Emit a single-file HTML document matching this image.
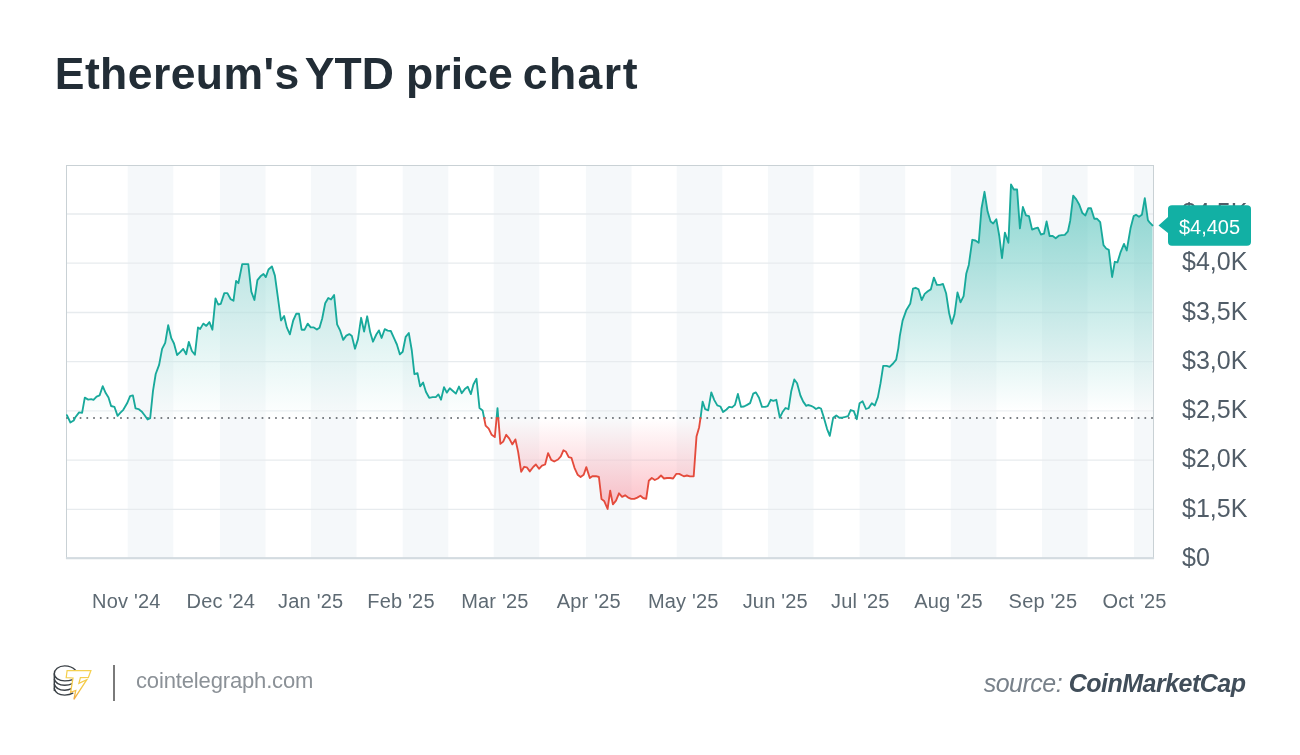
<!DOCTYPE html>
<html><head><meta charset="utf-8"><style>
html,body{margin:0;padding:0;background:#fff;}
body{width:1300px;height:755px;position:relative;overflow:hidden;font-family:"Liberation Sans",sans-serif;}
.title{position:absolute;left:54.6px;top:48.8px;font-size:44.5px;line-height:50px;font-weight:bold;color:#222d36;white-space:nowrap;font-family:"Liberation Sans",sans-serif;letter-spacing:0.1px;width:700px;height:60px}
.title span{position:absolute;top:0}
.yl{font-family:"Liberation Sans",sans-serif;font-size:25px;fill:#515d68;}
.xl{font-family:"Liberation Sans",sans-serif;font-size:20px;letter-spacing:0.2px;fill:#5e6a73;}
.tag{font-family:"Liberation Sans",sans-serif;font-size:20px;fill:#fff;}
.site{position:absolute;left:136px;top:668px;font-size:22px;line-height:26px;letter-spacing:-0.15px;color:#8b9197;font-family:"Liberation Sans",sans-serif;white-space:nowrap}
.src{position:absolute;right:54.5px;top:668.8px;font-size:25px;line-height:28px;letter-spacing:-0.5px;font-style:italic;color:#78818a;white-space:nowrap;font-family:"Liberation Sans",sans-serif}
.src b{color:#414e5a}
.div{position:absolute;left:113.2px;top:665.2px;width:1.7px;height:35.8px;background:#7a7a7a}
</style></head><body>
<div class="title"><span style="left:0.2px;letter-spacing:0.42px">Ethereum's</span> <span style="left:250.2px">YTD</span> <span style="left:351.4px">price</span> <span style="left:468.1px;letter-spacing:1.5px">chart</span></div>
<svg width="1300" height="755" viewBox="0 0 1300 755" style="position:absolute;left:0;top:0"><defs>
<linearGradient id="gg" gradientUnits="userSpaceOnUse" x1="0" y1="184" x2="0" y2="412"><stop offset="0" stop-color="#13aba0" stop-opacity="0.5"/><stop offset="1" stop-color="#13aba0" stop-opacity="0"/></linearGradient>
<linearGradient id="gl" gradientUnits="userSpaceOnUse" x1="0" y1="263" x2="0" y2="420"><stop offset="0" stop-color="#13aba0" stop-opacity="0.25"/><stop offset="1" stop-color="#13aba0" stop-opacity="0"/></linearGradient>
<linearGradient id="rg" gradientUnits="userSpaceOnUse" x1="0" y1="418" x2="0" y2="510"><stop offset="0" stop-color="#f5203c" stop-opacity="0.0"/><stop offset="1" stop-color="#f5203c" stop-opacity="0.29"/></linearGradient>
<path id="area" d="M66.9,415.2 L70.4,422.5 L73.7,420.5 L75.2,417.5 L79.1,412.4 L82.1,412.9 L84.8,397.6 L88.2,399.6 L91.2,399.2 L93.5,399.9 L96.6,396.6 L99.6,395.4 L102.7,386.2 L105.7,393.1 L108.5,397.6 L111.1,406.0 L114.4,406.8 L117.6,415.9 L120.2,412.9 L123.3,409.8 L127.1,403.3 L130.1,396.1 L132.9,395.4 L135.5,408.3 L138.5,409.1 L141.6,411.4 L144.6,415.2 L147.6,419.5 L150.2,418.2 L153.0,390.8 L155.7,374.0 L159.1,364.9 L162.1,348.9 L165.2,342.8 L168.2,325.2 L171.3,338.2 L174.0,343.5 L177.1,355.0 L180.4,351.9 L183.2,348.9 L186.2,354.2 L188.8,341.9 L191.9,351.0 L194.9,354.8 L198.0,327.4 L200.2,328.9 L203.3,323.6 L206.3,325.9 L209.4,322.1 L212.4,329.7 L215.5,298.4 L218.2,304.5 L220.8,303.8 L224.3,293.1 L227.4,293.1 L230.7,299.2 L233.5,300.7 L236.1,280.9 L238.4,283.2 L242.2,264.1 L248.3,264.1 L251.3,291.6 L254.4,300.0 L257.4,280.2 L260.5,276.3 L263.5,274.0 L265.8,277.1 L268.5,269.5 L271.9,266.4 L274.9,275.6 L277.7,296.2 L281.0,320.5 L284.1,316.0 L286.8,327.4 L289.9,334.3 L293.2,320.5 L296.3,313.7 L299.0,313.7 L301.6,329.7 L304.6,329.7 L307.7,323.6 L310.7,327.4 L313.8,327.4 L316.9,329.5 L319.5,327.7 L322.2,318.5 L325.2,303.3 L328.3,298.0 L331.0,299.5 L334.1,294.9 L337.1,324.3 L340.2,330.7 L343.2,339.9 L346.3,335.6 L349.3,334.1 L351.9,336.1 L355.0,348.7 L358.0,339.1 L361.1,317.8 L364.1,331.5 L367.2,316.3 L370.2,332.3 L373.0,341.7 L376.3,334.5 L378.9,330.4 L381.6,338.0 L384.7,329.2 L387.7,330.7 L390.8,331.0 L393.8,337.6 L396.9,344.5 L399.9,354.4 L402.7,351.8 L405.7,336.8 L408.8,333.0 L411.8,350.5 L414.4,374.2 L417.5,373.1 L420.1,386.4 L423.1,382.6 L425.9,391.7 L429.2,397.8 L432.7,397.2 L435.8,397.1 L438.4,394.4 L441.0,399.7 L444.0,387.1 L446.8,392.6 L449.8,388.3 L452.9,391.0 L455.9,393.6 L459.0,386.5 L461.7,393.2 L464.8,389.1 L467.8,386.8 L470.9,394.1 L473.4,384.5 L476.5,378.8 L479.5,408.1 L482.6,410.4 L485.6,425.6 L488.7,428.7 L491.7,434.8 L494.8,437.1 L497.5,408.1 L500.4,443.9 L503.2,441.6 L506.2,434.8 L509.3,438.6 L512.3,444.4 L515.4,439.4 L518.1,451.6 L521.2,471.8 L524.2,466.8 L526.8,467.3 L529.8,471.4 L533.4,466.8 L535.9,464.5 L539.0,468.8 L542.0,465.7 L545.1,464.5 L548.1,453.1 L551.2,459.9 L554.2,461.5 L558.0,459.5 L560.8,456.4 L563.4,450.3 L566.0,451.8 L568.7,457.2 L571.5,457.9 L574.5,467.8 L577.6,474.7 L580.6,477.0 L583.7,474.7 L586.3,467.1 L589.8,478.0 L592.3,476.2 L595.9,476.2 L598.9,477.0 L601.5,499.1 L604.1,500.9 L607.6,509.0 L610.2,490.7 L612.9,504.4 L616.0,500.6 L619.0,493.3 L622.1,496.8 L625.1,495.3 L628.2,497.6 L631.2,498.8 L634.3,498.8 L637.3,497.6 L640.4,495.7 L643.1,498.0 L646.2,498.8 L648.8,480.8 L651.8,478.0 L654.8,480.0 L657.9,478.5 L661.0,475.5 L664.0,478.5 L667.0,478.0 L670.1,478.0 L673.1,478.5 L676.2,473.9 L679.2,473.9 L682.3,475.5 L683.8,476.3 L686.9,475.5 L689.9,476.3 L693.7,476.3 L696.5,436.6 L699.1,427.5 L700.6,417.6 L702.6,401.6 L705.2,409.2 L708.2,410.4 L711.3,392.4 L714.3,400.1 L717.3,405.4 L720.4,406.5 L723.1,412.0 L726.5,409.5 L729.1,406.9 L732.1,407.4 L734.9,404.9 L737.9,394.0 L741.0,406.9 L744.0,406.5 L747.1,404.9 L750.1,403.1 L753.2,393.7 L755.9,392.4 L759.0,397.8 L762.0,406.9 L765.1,406.9 L767.7,406.2 L770.7,399.8 L773.3,400.8 L776.3,399.8 L779.8,417.6 L782.4,412.3 L785.5,408.0 L788.5,409.2 L791.3,390.9 L794.3,379.5 L797.1,383.3 L800.4,395.5 L803.2,401.6 L806.2,405.9 L808.0,405.0 L811.1,405.9 L813.4,407.0 L816.0,409.0 L818.7,407.7 L821.0,408.5 L824.1,418.4 L827.1,429.1 L829.8,435.9 L833.2,417.7 L836.3,415.4 L839.3,417.7 L842.3,417.7 L845.4,416.9 L848.1,416.1 L850.7,410.0 L853.8,411.1 L856.8,419.2 L859.6,403.2 L862.6,401.3 L866.0,409.0 L868.7,408.0 L871.8,403.2 L874.8,405.5 L877.9,397.1 L880.5,383.4 L883.2,365.8 L886.6,365.8 L889.6,366.9 L893.1,363.5 L896.2,359.7 L898.3,348.3 L899.8,336.1 L902.6,320.6 L906.4,309.9 L910.2,303.8 L913.0,288.6 L915.6,287.8 L918.6,289.4 L921.7,300.0 L924.7,293.9 L927.8,291.3 L930.8,289.4 L933.9,277.6 L936.9,284.8 L940.0,284.8 L943.0,284.0 L946.1,293.2 L949.1,313.0 L951.7,323.7 L954.5,314.5 L957.5,292.4 L960.5,302.3 L963.6,296.2 L966.3,273.4 L968.8,264.9 L972.3,239.8 L975.4,240.5 L978.7,242.8 L981.5,208.5 L984.5,191.8 L987.6,211.6 L990.6,221.5 L993.2,223.5 L996.3,219.2 L999.3,236.0 L1002.0,258.1 L1004.9,232.6 L1008.4,242.8 L1011.0,184.5 L1013.8,189.5 L1017.1,189.5 L1019.9,228.4 L1022.9,207.0 L1026.0,215.4 L1029.0,216.2 L1032.1,229.6 L1035.1,228.4 L1037.9,227.6 L1040.9,234.5 L1044.0,233.7 L1046.6,221.5 L1049.6,236.0 L1052.7,236.0 L1055.7,238.3 L1058.8,235.7 L1061.8,235.2 L1064.8,234.8 L1067.9,231.4 L1070.2,220.7 L1073.2,195.6 L1076.3,199.4 L1079.3,204.7 L1082.4,213.1 L1085.4,215.4 L1088.3,208.2 L1091.0,208.2 L1094.3,218.7 L1096.9,218.7 L1100.2,222.1 L1103.5,245.2 L1106.2,248.5 L1108.8,249.8 L1112.1,277.0 L1114.8,261.8 L1117.4,262.4 L1120.7,251.8 L1124.0,243.9 L1126.7,250.5 L1130.7,227.4 L1133.7,216.1 L1136.0,214.8 L1139.0,216.8 L1141.9,214.8 L1144.8,198.2 L1147.9,220.1 L1149.8,222.7 L1152.5,225.4 L1152.5,418.0 L66.9,418.0 Z"/>
<clipPath id="above"><rect x="60" y="160" width="1100" height="258"/></clipPath>
<clipPath id="aboveL"><rect x="60" y="160" width="540" height="258"/></clipPath>
<clipPath id="aboveR"><rect x="600" y="160" width="560" height="258"/></clipPath>
<clipPath id="below"><rect x="480" y="418" width="222" height="140"/></clipPath>
</defs><rect x="127.7" y="165.5" width="45.6" height="392.5" fill="#f5f8fa"/><rect x="219.9" y="165.5" width="45.6" height="392.5" fill="#f5f8fa"/><rect x="310.9" y="165.5" width="45.6" height="392.5" fill="#f5f8fa"/><rect x="402.7" y="165.5" width="45.6" height="392.5" fill="#f5f8fa"/><rect x="493.7" y="165.5" width="45.6" height="392.5" fill="#f5f8fa"/><rect x="585.9" y="165.5" width="45.6" height="392.5" fill="#f5f8fa"/><rect x="676.7" y="165.5" width="45.6" height="392.5" fill="#f5f8fa"/><rect x="767.9" y="165.5" width="45.6" height="392.5" fill="#f5f8fa"/><rect x="859.6" y="165.5" width="45.6" height="392.5" fill="#f5f8fa"/><rect x="950.8" y="165.5" width="45.6" height="392.5" fill="#f5f8fa"/><rect x="1042" y="165.5" width="45.6" height="392.5" fill="#f5f8fa"/><rect x="1134" y="165.5" width="19.5" height="392.5" fill="#f5f8fa"/><line x1="66.5" x2="1153.5" y1="214.0" y2="214.0" stroke="#e7ebee" stroke-width="1.3"/><line x1="66.5" x2="1153.5" y1="263.2" y2="263.2" stroke="#e7ebee" stroke-width="1.3"/><line x1="66.5" x2="1153.5" y1="312.5" y2="312.5" stroke="#e7ebee" stroke-width="1.3"/><line x1="66.5" x2="1153.5" y1="361.7" y2="361.7" stroke="#e7ebee" stroke-width="1.3"/><line x1="66.5" x2="1153.5" y1="410.9" y2="410.9" stroke="#e7ebee" stroke-width="1.3"/><line x1="66.5" x2="1153.5" y1="460.1" y2="460.1" stroke="#e7ebee" stroke-width="1.3"/><line x1="66.5" x2="1153.5" y1="509.4" y2="509.4" stroke="#e7ebee" stroke-width="1.3"/><use href="#area" fill="#fff" fill-opacity="0.3" clip-path="url(#above)"/><use href="#area" fill="url(#gl)" clip-path="url(#aboveL)"/><use href="#area" fill="url(#gg)" clip-path="url(#aboveR)"/><use href="#area" fill="#fff" fill-opacity="0.3" clip-path="url(#below)"/><use href="#area" fill="url(#rg)" clip-path="url(#below)"/><rect x="66.5" y="165.5" width="1087.0" height="392.5" fill="none" stroke="#c9d1d5" stroke-width="1"/><line x1="65.9" x2="1154.1" y1="558.2" y2="558.2" stroke="#d3dbe0" stroke-width="2"/><line x1="66.21" x2="1153.5" y1="418.0" y2="418.0" stroke="#50565c" stroke-width="1.7" stroke-dasharray="1.7 5.039"/><path d="M66.9,415.2 L70.4,422.5 L73.7,420.5 L75.2,417.5 L79.1,412.4 L82.1,412.9 L84.8,397.6 L88.2,399.6 L91.2,399.2 L93.5,399.9 L96.6,396.6 L99.6,395.4 L102.7,386.2 L105.7,393.1 L108.5,397.6 L111.1,406.0 L114.4,406.8 L117.6,415.9 L120.2,412.9 L123.3,409.8 L127.1,403.3 L130.1,396.1 L132.9,395.4 L135.5,408.3 L138.5,409.1 L141.6,411.4 L144.6,415.2 L147.6,419.5 L150.2,418.2 L153.0,390.8 L155.7,374.0 L159.1,364.9 L162.1,348.9 L165.2,342.8 L168.2,325.2 L171.3,338.2 L174.0,343.5 L177.1,355.0 L180.4,351.9 L183.2,348.9 L186.2,354.2 L188.8,341.9 L191.9,351.0 L194.9,354.8 L198.0,327.4 L200.2,328.9 L203.3,323.6 L206.3,325.9 L209.4,322.1 L212.4,329.7 L215.5,298.4 L218.2,304.5 L220.8,303.8 L224.3,293.1 L227.4,293.1 L230.7,299.2 L233.5,300.7 L236.1,280.9 L238.4,283.2 L242.2,264.1 L248.3,264.1 L251.3,291.6 L254.4,300.0 L257.4,280.2 L260.5,276.3 L263.5,274.0 L265.8,277.1 L268.5,269.5 L271.9,266.4 L274.9,275.6 L277.7,296.2 L281.0,320.5 L284.1,316.0 L286.8,327.4 L289.9,334.3 L293.2,320.5 L296.3,313.7 L299.0,313.7 L301.6,329.7 L304.6,329.7 L307.7,323.6 L310.7,327.4 L313.8,327.4 L316.9,329.5 L319.5,327.7 L322.2,318.5 L325.2,303.3 L328.3,298.0 L331.0,299.5 L334.1,294.9 L337.1,324.3 L340.2,330.7 L343.2,339.9 L346.3,335.6 L349.3,334.1 L351.9,336.1 L355.0,348.7 L358.0,339.1 L361.1,317.8 L364.1,331.5 L367.2,316.3 L370.2,332.3 L373.0,341.7 L376.3,334.5 L378.9,330.4 L381.6,338.0 L384.7,329.2 L387.7,330.7 L390.8,331.0 L393.8,337.6 L396.9,344.5 L399.9,354.4 L402.7,351.8 L405.7,336.8 L408.8,333.0 L411.8,350.5 L414.4,374.2 L417.5,373.1 L420.1,386.4 L423.1,382.6 L425.9,391.7 L429.2,397.8 L432.7,397.2 L435.8,397.1 L438.4,394.4 L441.0,399.7 L444.0,387.1 L446.8,392.6 L449.8,388.3 L452.9,391.0 L455.9,393.6 L459.0,386.5 L461.7,393.2 L464.8,389.1 L467.8,386.8 L470.9,394.1 L473.4,384.5 L476.5,378.8 L479.5,408.1 L482.6,410.4 L484.1,418.0 M496.6,418.0 L497.5,408.1 L498.3,418.0 M700.5,418.0 L700.6,417.6 L702.6,401.6 L705.2,409.2 L708.2,410.4 L711.3,392.4 L714.3,400.1 L717.3,405.4 L720.4,406.5 L723.1,412.0 L726.5,409.5 L729.1,406.9 L732.1,407.4 L734.9,404.9 L737.9,394.0 L741.0,406.9 L744.0,406.5 L747.1,404.9 L750.1,403.1 L753.2,393.7 L755.9,392.4 L759.0,397.8 L762.0,406.9 L765.1,406.9 L767.7,406.2 L770.7,399.8 L773.3,400.8 L776.3,399.8 L779.8,417.6 L782.4,412.3 L785.5,408.0 L788.5,409.2 L791.3,390.9 L794.3,379.5 L797.1,383.3 L800.4,395.5 L803.2,401.6 L806.2,405.9 L808.0,405.0 L811.1,405.9 L813.4,407.0 L816.0,409.0 L818.7,407.7 L821.0,408.5 L824.1,418.4 L827.1,429.1 L829.8,435.9 L833.2,417.7 L836.3,415.4 L839.3,417.7 L842.3,417.7 L845.4,416.9 L848.1,416.1 L850.7,410.0 L853.8,411.1 L856.8,419.2 L859.6,403.2 L862.6,401.3 L866.0,409.0 L868.7,408.0 L871.8,403.2 L874.8,405.5 L877.9,397.1 L880.5,383.4 L883.2,365.8 L886.6,365.8 L889.6,366.9 L893.1,363.5 L896.2,359.7 L898.3,348.3 L899.8,336.1 L902.6,320.6 L906.4,309.9 L910.2,303.8 L913.0,288.6 L915.6,287.8 L918.6,289.4 L921.7,300.0 L924.7,293.9 L927.8,291.3 L930.8,289.4 L933.9,277.6 L936.9,284.8 L940.0,284.8 L943.0,284.0 L946.1,293.2 L949.1,313.0 L951.7,323.7 L954.5,314.5 L957.5,292.4 L960.5,302.3 L963.6,296.2 L966.3,273.4 L968.8,264.9 L972.3,239.8 L975.4,240.5 L978.7,242.8 L981.5,208.5 L984.5,191.8 L987.6,211.6 L990.6,221.5 L993.2,223.5 L996.3,219.2 L999.3,236.0 L1002.0,258.1 L1004.9,232.6 L1008.4,242.8 L1011.0,184.5 L1013.8,189.5 L1017.1,189.5 L1019.9,228.4 L1022.9,207.0 L1026.0,215.4 L1029.0,216.2 L1032.1,229.6 L1035.1,228.4 L1037.9,227.6 L1040.9,234.5 L1044.0,233.7 L1046.6,221.5 L1049.6,236.0 L1052.7,236.0 L1055.7,238.3 L1058.8,235.7 L1061.8,235.2 L1064.8,234.8 L1067.9,231.4 L1070.2,220.7 L1073.2,195.6 L1076.3,199.4 L1079.3,204.7 L1082.4,213.1 L1085.4,215.4 L1088.3,208.2 L1091.0,208.2 L1094.3,218.7 L1096.9,218.7 L1100.2,222.1 L1103.5,245.2 L1106.2,248.5 L1108.8,249.8 L1112.1,277.0 L1114.8,261.8 L1117.4,262.4 L1120.7,251.8 L1124.0,243.9 L1126.7,250.5 L1130.7,227.4 L1133.7,216.1 L1136.0,214.8 L1139.0,216.8 L1141.9,214.8 L1144.8,198.2 L1147.9,220.1 L1149.8,222.7 L1152.5,225.4" fill="none" stroke="#18a99b" stroke-width="1.85" stroke-linejoin="round" stroke-linecap="round"/><path d="M484.1,418.0 L485.6,425.6 L488.7,428.7 L491.7,434.8 L494.8,437.1 L496.6,418.0 M498.3,418.0 L500.4,443.9 L503.2,441.6 L506.2,434.8 L509.3,438.6 L512.3,444.4 L515.4,439.4 L518.1,451.6 L521.2,471.8 L524.2,466.8 L526.8,467.3 L529.8,471.4 L533.4,466.8 L535.9,464.5 L539.0,468.8 L542.0,465.7 L545.1,464.5 L548.1,453.1 L551.2,459.9 L554.2,461.5 L558.0,459.5 L560.8,456.4 L563.4,450.3 L566.0,451.8 L568.7,457.2 L571.5,457.9 L574.5,467.8 L577.6,474.7 L580.6,477.0 L583.7,474.7 L586.3,467.1 L589.8,478.0 L592.3,476.2 L595.9,476.2 L598.9,477.0 L601.5,499.1 L604.1,500.9 L607.6,509.0 L610.2,490.7 L612.9,504.4 L616.0,500.6 L619.0,493.3 L622.1,496.8 L625.1,495.3 L628.2,497.6 L631.2,498.8 L634.3,498.8 L637.3,497.6 L640.4,495.7 L643.1,498.0 L646.2,498.8 L648.8,480.8 L651.8,478.0 L654.8,480.0 L657.9,478.5 L661.0,475.5 L664.0,478.5 L667.0,478.0 L670.1,478.0 L673.1,478.5 L676.2,473.9 L679.2,473.9 L682.3,475.5 L683.8,476.3 L686.9,475.5 L689.9,476.3 L693.7,476.3 L696.5,436.6 L699.1,427.5 L700.5,418.0" fill="none" stroke="#e44b3c" stroke-width="1.85" stroke-linejoin="round" stroke-linecap="round"/><text x="1182" y="221.2" class="yl">$4,5K</text><text x="1182" y="270.4" class="yl">$4,0K</text><text x="1182" y="319.7" class="yl">$3,5K</text><text x="1182" y="368.9" class="yl">$3,0K</text><text x="1182" y="418.1" class="yl">$2,5K</text><text x="1182" y="467.3" class="yl">$2,0K</text><text x="1182" y="516.6" class="yl">$1,5K</text><text x="1182" y="565.8" class="yl">$0</text><text x="126.4" y="607.5" text-anchor="middle" class="xl">Nov '24</text><text x="220.8" y="607.5" text-anchor="middle" class="xl">Dec '24</text><text x="310.7" y="607.5" text-anchor="middle" class="xl">Jan '25</text><text x="401" y="607.5" text-anchor="middle" class="xl">Feb '25</text><text x="494.9" y="607.5" text-anchor="middle" class="xl">Mar '25</text><text x="588.8" y="607.5" text-anchor="middle" class="xl">Apr '25</text><text x="683.3" y="607.5" text-anchor="middle" class="xl">May '25</text><text x="775.3" y="607.5" text-anchor="middle" class="xl">Jun '25</text><text x="860.3" y="607.5" text-anchor="middle" class="xl">Jul '25</text><text x="948.5" y="607.5" text-anchor="middle" class="xl">Aug '25</text><text x="1042.9" y="607.5" text-anchor="middle" class="xl">Sep '25</text><text x="1134.5" y="607.5" text-anchor="middle" class="xl">Oct '25</text><path d="M1158.5,225.4 L1168,217 L1168,209 Q1168,205.3 1172,205.3 L1247,205.3 Q1251,205.3 1251,209 L1251,242 Q1251,245.7 1247,245.7 L1172,245.7 Q1168,245.7 1168,242 L1168,233 Z" fill="#12b0a4"/><text x="1209.5" y="233.7" text-anchor="middle" class="tag">$4,405</text></svg>
<svg width="46" height="42" viewBox="0 0 46 42" style="position:absolute;left:50px;top:662px">
<g fill="none" stroke="#3a4046" stroke-width="1.4" stroke-linecap="round">
<path d="M25.5,8.3 C22,4.5 18.5,3.9 14.7,3.9 C8.5,3.9 4.3,7.6 4.3,11.8 C4.3,16 9,18.9 14.7,18.9 C18,18.9 20.5,18.4 22.8,17.6"/>
<path d="M4.3,11.8 L4.3,28.5"/>
<path d="M4.4,17.3 C5.5,21.2 9.5,23.3 14.7,23.3 C17.8,23.3 20.2,22.7 22.3,21.7"/>
<path d="M4.4,22.2 C5.5,26.1 9.5,28.2 14.7,28.2 C17.5,28.2 19.6,27.6 21.4,26.7"/>
<path d="M4.4,26.7 C5.5,31.1 9.5,33.1 14.7,33.1 C18,33.1 20.8,32.4 22.8,31.2"/>
</g>
<defs><linearGradient id="tg" x1="0" y1="0" x2="0" y2="1"><stop offset="0" stop-color="#f5d152"/><stop offset="0.6" stop-color="#f3c845"/><stop offset="1" stop-color="#f0a845"/></linearGradient></defs>
<path d="M17.1,8.5 L40.9,8.5 L38.4,15.5 L30.4,15.7 L28.9,21.4 L36.8,17.7 L23.9,37.4 L25.8,28.5 L20.6,30.3 L23,16 L16.2,15.6 Z" fill="#fff" stroke="url(#tg)" stroke-width="1.25" stroke-linejoin="miter"/>
</svg>
<div class="div"></div>
<div class="site">cointelegraph.com</div>
<div class="src">source: <b>CoinMarketCap</b></div>
</body></html>
